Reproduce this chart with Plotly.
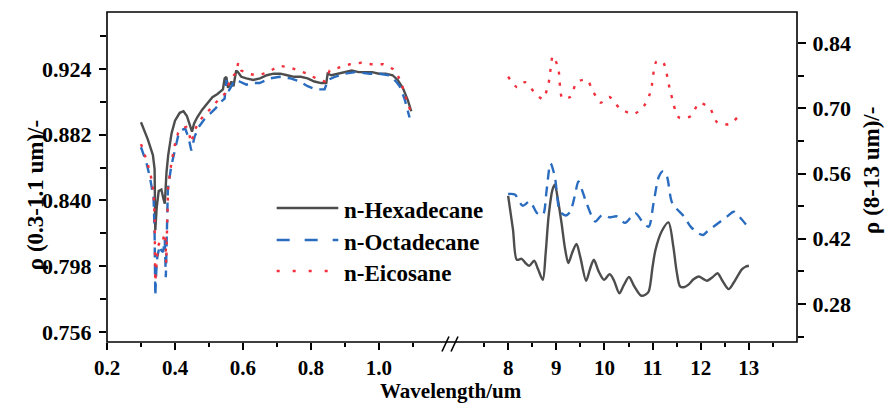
import plotly.graph_objects as go

# ---------------- data ----------------
# 0.3-1.1 um region (left axes)
hex_vis_x = [0.300, 0.320, 0.335, 0.340, 0.342, 0.346, 0.352, 0.360, 0.366, 0.370, 0.375, 0.380, 0.390, 0.400,
             0.414, 0.425, 0.435, 0.443, 0.450, 0.456, 0.465, 0.480, 0.495, 0.510, 0.525, 0.535, 0.541, 0.546,
             0.551, 0.556, 0.562, 0.566, 0.572, 0.580, 0.585, 0.595, 0.610, 0.630, 0.650, 0.670, 0.690, 0.710,
             0.730, 0.750, 0.770, 0.790, 0.810, 0.830, 0.845, 0.849, 0.860, 0.880, 0.900, 0.920, 0.940, 0.960,
             0.980, 1.000, 1.020, 1.040, 1.055, 1.070, 1.085, 1.095]
hex_vis_y = [0.890, 0.879, 0.869, 0.860, 0.821, 0.835, 0.846, 0.847, 0.841, 0.838, 0.858, 0.869, 0.883, 0.891,
             0.896, 0.897, 0.894, 0.888, 0.884, 0.889, 0.893, 0.898, 0.902, 0.906, 0.908, 0.910, 0.911, 0.918,
             0.919, 0.912, 0.915, 0.916, 0.913, 0.923, 0.922, 0.919, 0.918, 0.917, 0.918, 0.920, 0.921, 0.921,
             0.920, 0.919, 0.919, 0.918, 0.916, 0.915, 0.915, 0.921, 0.920, 0.921, 0.922, 0.923, 0.922, 0.922,
             0.922, 0.921, 0.921, 0.920, 0.917, 0.912, 0.904, 0.897]

oct_vis_x = [0.300, 0.316, 0.326, 0.331, 0.337, 0.340, 0.342, 0.345, 0.348, 0.355, 0.360, 0.365, 0.370, 0.373,
             0.376, 0.379, 0.389, 0.399, 0.409, 0.420, 0.430, 0.440, 0.448, 0.458, 0.470, 0.487, 0.502, 0.520,
             0.535, 0.546, 0.551, 0.558, 0.566, 0.576, 0.590, 0.610, 0.630, 0.649, 0.680, 0.708, 0.740, 0.767,
             0.790, 0.815, 0.840, 0.850, 0.870, 0.900, 0.930, 0.973, 1.000, 1.031, 1.050, 1.061, 1.075, 1.085,
             1.090]
oct_vis_y = [0.874, 0.864, 0.855, 0.850, 0.842, 0.819, 0.779, 0.795, 0.804, 0.811, 0.808, 0.807, 0.815, 0.791,
             0.830, 0.847, 0.862, 0.872, 0.881, 0.885, 0.886, 0.880, 0.872, 0.881, 0.887, 0.892, 0.895, 0.899,
             0.903, 0.905, 0.917, 0.910, 0.913, 0.917, 0.916, 0.914, 0.915, 0.915, 0.918, 0.919, 0.918, 0.916,
             0.913, 0.911, 0.911, 0.917, 0.919, 0.921, 0.922, 0.921, 0.921, 0.920, 0.916, 0.913, 0.905, 0.898,
             0.893]

eic_vis_x = [0.300, 0.316, 0.328, 0.337, 0.340, 0.342, 0.346, 0.350, 0.355, 0.362, 0.368, 0.372, 0.374, 0.377,
             0.380, 0.390, 0.400, 0.409, 0.420, 0.433, 0.442, 0.448, 0.458, 0.470, 0.487, 0.502, 0.517, 0.530,
             0.546, 0.555, 0.561, 0.570, 0.580, 0.586, 0.595, 0.615, 0.639, 0.660, 0.674, 0.690, 0.708, 0.737,
             0.767, 0.790, 0.806, 0.825, 0.840, 0.850, 0.855, 0.884, 0.914, 0.948, 0.978, 1.012, 1.041, 1.055,
             1.066, 1.081, 1.095]
eic_vis_y = [0.876, 0.866, 0.857, 0.845, 0.830, 0.788, 0.800, 0.811, 0.813, 0.812, 0.818, 0.819, 0.800, 0.835,
             0.849, 0.865, 0.876, 0.883, 0.886, 0.887, 0.882, 0.877, 0.885, 0.890, 0.895, 0.898, 0.902, 0.905,
             0.908, 0.913, 0.916, 0.919, 0.922, 0.928, 0.923, 0.921, 0.920, 0.921, 0.922, 0.924, 0.926, 0.925,
             0.923, 0.921, 0.919, 0.917, 0.916, 0.920, 0.923, 0.925, 0.927, 0.928, 0.927, 0.927, 0.924, 0.920,
             0.915, 0.904, 0.896]

# 8-13 um region (right axes)
hex_ir_x = [8.00, 8.10, 8.18, 8.28, 8.36, 8.44, 8.54, 8.62, 8.72, 8.78, 8.84, 8.92, 8.97, 9.04, 9.11, 9.18,
            9.25, 9.33, 9.42, 9.50, 9.62, 9.70, 9.78, 9.88, 9.99, 10.11, 10.20, 10.31, 10.40, 10.51, 10.62,
            10.76, 10.85, 10.92, 11.00, 11.06, 11.19, 11.33, 11.43, 11.50, 11.57, 11.65, 11.74, 11.85, 11.96,
            12.05, 12.13, 12.25, 12.35, 12.45, 12.58, 12.68, 12.76, 12.86, 12.93, 13.00]
hex_ir_y = [0.512, 0.440, 0.375, 0.377, 0.368, 0.362, 0.373, 0.355, 0.332, 0.390, 0.468, 0.525, 0.536, 0.500,
            0.453, 0.400, 0.368, 0.390, 0.409, 0.380, 0.330, 0.355, 0.375, 0.350, 0.332, 0.344, 0.330, 0.303,
            0.320, 0.338, 0.318, 0.298, 0.300, 0.307, 0.360, 0.396, 0.436, 0.455, 0.404, 0.350, 0.318, 0.316,
            0.321, 0.333, 0.339, 0.334, 0.330, 0.338, 0.346, 0.330, 0.312, 0.325, 0.339, 0.355, 0.360, 0.362]

oct_ir_x = [8.00, 8.14, 8.30, 8.45, 8.60, 8.72, 8.80, 8.88, 8.97, 9.08, 9.20, 9.29, 9.38, 9.46, 9.55, 9.63,
            9.81, 9.95, 10.10, 10.26, 10.43, 10.64, 10.80, 10.92, 11.02, 11.13, 11.22, 11.30, 11.41, 11.65,
            11.80, 11.96, 12.05, 12.14, 12.41, 12.55, 12.69, 12.83, 13.00]
oct_ir_y = [0.516, 0.515, 0.491, 0.500, 0.475, 0.471, 0.525, 0.582, 0.553, 0.478, 0.470, 0.478, 0.510, 0.543,
            0.520, 0.496, 0.457, 0.471, 0.466, 0.468, 0.454, 0.475, 0.455, 0.446, 0.496, 0.553, 0.565, 0.553,
            0.496, 0.468, 0.445, 0.431, 0.428, 0.436, 0.457, 0.468, 0.478, 0.464, 0.443]

eic_ir_x = [8.00, 8.19, 8.35, 8.53, 8.72, 8.84, 8.93, 9.04, 9.13, 9.30, 9.42, 9.63, 9.78, 9.92, 10.10, 10.32,
            10.61, 10.82, 10.96, 11.08, 11.21, 11.37, 11.55, 11.79, 11.97, 12.19, 12.34, 12.59, 12.85]
eic_ir_y = [0.768, 0.745, 0.756, 0.736, 0.720, 0.754, 0.812, 0.786, 0.721, 0.725, 0.755, 0.761, 0.733, 0.712,
            0.724, 0.700, 0.688, 0.705, 0.736, 0.800, 0.800, 0.736, 0.680, 0.683, 0.711, 0.700, 0.670, 0.666,
            0.690]

series_names = ["n-Hexadecane", "n-Octadecane", "n-Eicosane"]

left_ticks_x = [0.2, 0.4, 0.6, 0.8, 1.0]
left_ticks_x_text = ["0.2", "0.4", "0.6", "0.8", "1.0"]
left_minor_x = [0.3, 0.5, 0.7, 0.9, 1.1]
right_ticks_x = [8, 9, 10, 11, 12, 13]
right_minor_x = [7.5, 8.5, 9.5, 10.5, 11.5, 12.5, 13.5]
left_ticks_y = [0.756, 0.798, 0.840, 0.882, 0.924]
left_ticks_y_text = ["0.756", "0.798", "0.840", "0.882", "0.924"]
left_minor_y = [0.777, 0.819, 0.861, 0.903, 0.945]
right_ticks_y = [0.28, 0.42, 0.56, 0.70, 0.84]
right_ticks_y_text = ["0.28", "0.42", "0.56", "0.70", "0.84"]
right_minor_y = [0.21, 0.35, 0.49, 0.63, 0.77]

# ---------------- style ----------------
FONT = "Liberation Serif"
C_HEX = "#4d4d4d"
C_OCT = "#2a6cbf"
C_EIC = "#f0303c"
DASH_OCT = "10px,7px"
DASH_EIC = "3px,8px"
LW = 2.4

fig = go.Figure()

styles = [dict(color=C_HEX, width=LW, dash="solid"),
          dict(color=C_OCT, width=LW, dash=DASH_OCT),
          dict(color=C_EIC, width=LW, dash=DASH_EIC)]

for name, xs, ys, st in zip(series_names, [hex_vis_x, oct_vis_x, eic_vis_x],
                            [hex_vis_y, oct_vis_y, eic_vis_y], styles):
    fig.add_trace(go.Scatter(x=xs, y=ys, mode="lines", name=name, line=st,
                             xaxis="x", yaxis="y", showlegend=False))

for name, xs, ys, st in zip(series_names, [hex_ir_x, oct_ir_x, eic_ir_x],
                            [hex_ir_y, oct_ir_y, eic_ir_y], styles):
    fig.add_trace(go.Scatter(x=xs, y=ys, mode="lines", name=name,
                             line=dict(st, shape="spline", smoothing=0.8),
                             xaxis="x2", yaxis="y2", showlegend=False))

tickfont = dict(family=FONT, size=22, color="black", weight="bold")
xtickfont = dict(family=FONT, size=21, color="black", weight="bold")
common = dict(showgrid=False, zeroline=False, showline=False, ticks="outside",
              tickcolor="black", tickwidth=1.5)

fig.update_layout(
    width=892, height=404,
    margin=dict(l=107, r=95, t=12, b=62),
    paper_bgcolor="white", plot_bgcolor="white",
    xaxis=dict(domain=[0, 0.4942], range=[0.2, 1.203], tickmode="array",
               tickvals=left_ticks_x, ticktext=left_ticks_x_text, ticklen=7,
               minor=dict(tickmode="array", tickvals=left_minor_x, ticklen=4,
                          ticks="outside", tickcolor="black", tickwidth=1.5),
               anchor="y", ticklabelstandoff=0, tickfont=xtickfont, **common),
    xaxis2=dict(domain=[0.5116, 1], range=[7, 14], tickmode="array",
                tickvals=right_ticks_x, ticklen=7,
                minor=dict(tickmode="array", tickvals=right_minor_x, ticklen=4,
                           ticks="outside", tickcolor="black", tickwidth=1.5),
                anchor="y2", ticklabelstandoff=0, tickfont=xtickfont, **common),
    yaxis=dict(domain=[0, 1], range=[0.7496, 0.9604], tickmode="array",
               tickvals=left_ticks_y, ticktext=left_ticks_y_text, ticklen=7,
               minor=dict(tickmode="array", tickvals=left_minor_y, ticklen=6,
                          ticks="outside", tickcolor="black", tickwidth=1.5),
               anchor="x", side="left", ticklabelstandoff=3, tickfont=tickfont, **common),
    yaxis2=dict(domain=[0, 1], range=[0.1985, 0.9065], tickmode="array",
                tickvals=right_ticks_y, ticktext=right_ticks_y_text, ticklen=8,
                minor=dict(tickmode="array", tickvals=right_minor_y, ticklen=6,
                           ticks="outside", tickcolor="black", tickwidth=1.5),
                anchor="x2", side="right", ticklabelstandoff=2, tickfont=tickfont, **common),
)

# frame
fig.add_shape(type="rect", xref="paper", yref="paper", x0=0, x1=1, y0=0, y1=1,
              line=dict(color="black", width=1.6), layer="above")
# axis break marks
for x0 in [0.4855, 0.4986]:
    fig.add_shape(type="line", xref="paper", yref="paper", x0=x0, x1=x0 + 0.0101,
                  y0=-0.0288, y1=0.0167, line=dict(color="black", width=1.6))

# custom legend
leg_y = [0.406, 0.309, 0.215]
leg_dash = ["solid", "13px,15px", "3px,13px"]
for name, yy, st, dsh in zip(series_names, leg_y, styles, leg_dash):
    fig.add_shape(type="line", xref="paper", yref="paper", x0=0.2459, x1=0.3352,
                  y0=yy, y1=yy, line=dict(color=st["color"], width=LW, dash=dsh))
    fig.add_annotation(xref="paper", yref="paper", x=0.340, y=yy - 0.006, text=name,
                       showarrow=False, xanchor="left", yanchor="middle",
                       font=dict(family=FONT, size=23, color="black", weight="bold"))

# axis titles
titlefont = dict(family=FONT, size=23, color="black", weight="bold")
fig.add_annotation(xref="paper", yref="paper", x=0.4986, y=-0.148, text="Wavelength/um",
                   showarrow=False, xanchor="center", yanchor="middle",
                   font=dict(family=FONT, size=21, color="black", weight="bold"))
fig.add_annotation(xref="paper", yref="paper", x=-0.1043, y=0.445, text="ρ (0.3-1.1 um)/-",
                   showarrow=False, textangle=-90, xanchor="center", yanchor="middle", font=titlefont)
fig.add_annotation(xref="paper", yref="paper", x=1.107, y=0.521, text="ρ (8-13 um)/-",
                   showarrow=False, textangle=-90, xanchor="center", yanchor="middle", font=titlefont)

fig.write_html("out.html")
